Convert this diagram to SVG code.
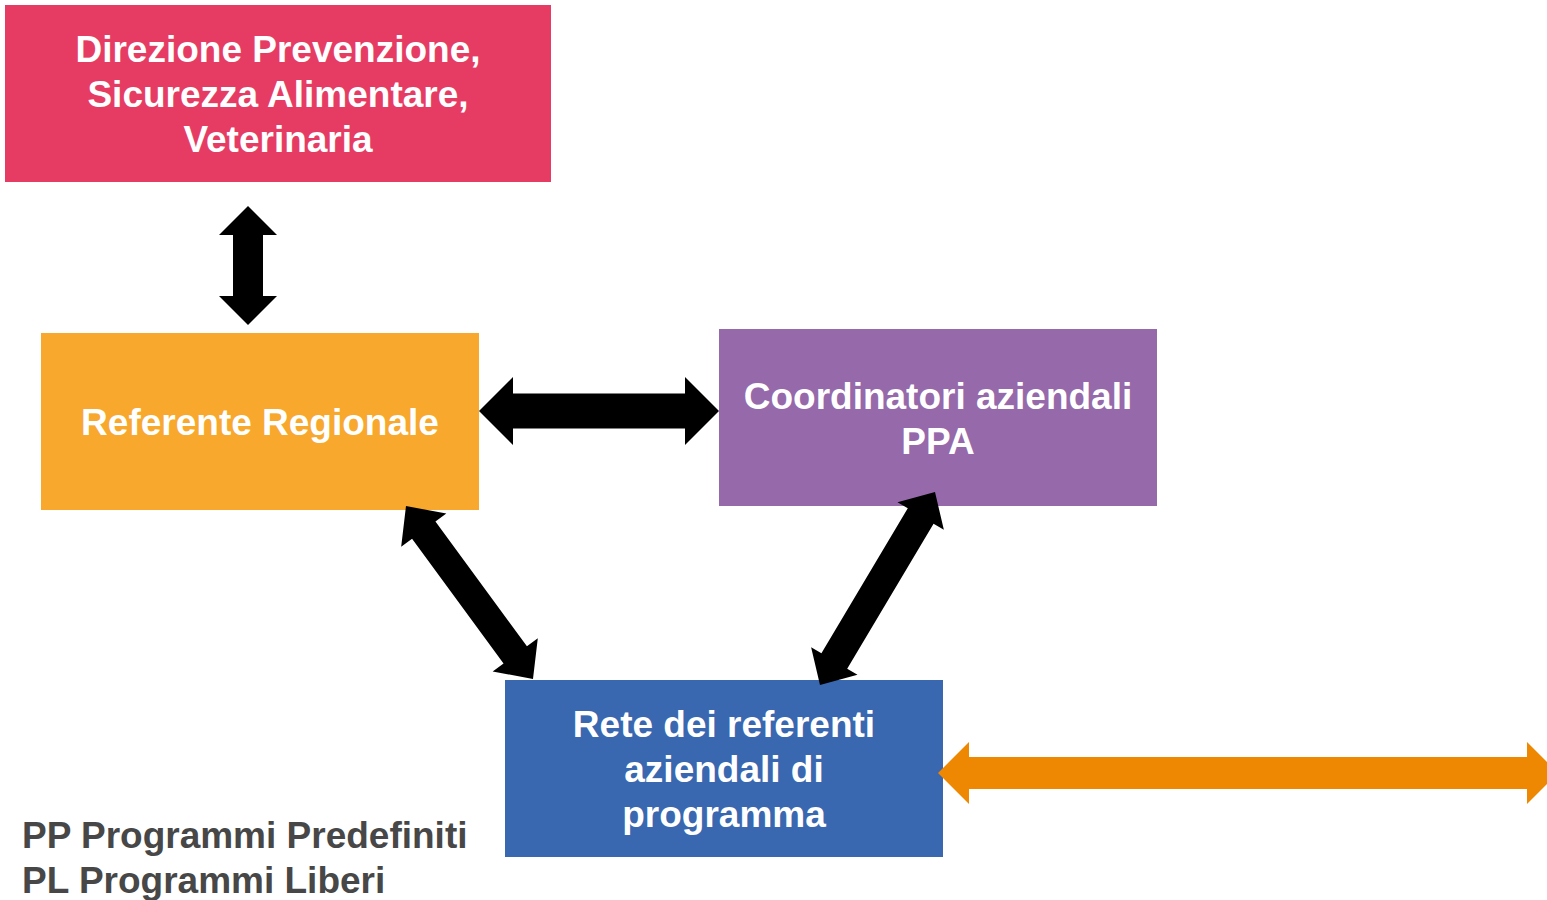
<svg xmlns="http://www.w3.org/2000/svg" width="1547" height="900" viewBox="0 0 1547 900">
  <style>
    .box-text { font-family: "Liberation Sans", Arial, Helvetica, sans-serif; font-weight: bold; font-size: 37px; fill: #ffffff; text-anchor: middle; }
    .legend { font-family: "Liberation Sans", Arial, Helvetica, sans-serif; font-weight: bold; font-size: 37px; fill: #474747; }
    .arrow { fill: #000000; }
    .arrow-orange { fill: #EE8701; }
  </style>
  <rect x="0" y="0" width="1547" height="900" fill="#ffffff"/>

  <g id="node-direzione">
    <rect x="5" y="5" width="546" height="177" fill="#E63C64"/>
    <text class="box-text" x="278" y="62">Direzione Prevenzione,</text>
    <text class="box-text" x="278" y="107">Sicurezza Alimentare,</text>
    <text class="box-text" x="278" y="152">Veterinaria</text>
  </g>

  <g id="node-referente">
    <rect x="41" y="333" width="438" height="177" fill="#F7A82D"/>
    <text class="box-text" x="260" y="435">Referente Regionale</text>
  </g>

  <g id="node-coordinatori">
    <rect x="719" y="329" width="438" height="177" fill="#9569AA"/>
    <text class="box-text" x="938" y="409">Coordinatori aziendali</text>
    <text class="box-text" x="938" y="454">PPA</text>
  </g>

  <g id="node-rete">
    <rect x="505" y="680" width="438" height="177" fill="#3967B0"/>
    <text class="box-text" x="724" y="737">Rete dei referenti</text>
    <text class="box-text" x="724" y="782">aziendali di</text>
    <text class="box-text" x="724" y="827">programma</text>
  </g>

  <g id="legend">
    <text class="legend" x="22" y="848">PP Programmi Predefiniti</text>
    <text class="legend" x="22" y="893">PL Programmi Liberi</text>
  </g>

  <g id="connectors">
    <polygon class="arrow" points="248,206 277,235 263,235 263,296 277,296 248,325 219,296 233,296 233,235 219,235"/>
    <polygon class="arrow" points="479,411 513,377 513,393.5 685,393.5 685,377 719,411 685,445 685,428.5 513,428.5 513,445"/>
    <polygon class="arrow" transform="translate(406,506) rotate(53.72)" points="0,0 30,-28 30,-14.5 184.6,-14.5 184.6,-28 214.6,0 184.6,28 184.6,14.5 30,14.5 30,28"/>
    <polygon class="arrow" transform="translate(935,492) rotate(120.79)" points="0,0 28,-27 28,-15 196.7,-15 196.7,-27 224.7,0 196.7,27 196.7,15 28,15 28,27"/>
    <polygon class="arrow-orange" points="938,773 969,742 969,757 1527,757 1527,742 1558,773 1527,804 1527,789 969,789 969,804"/>
  </g>
</svg>
